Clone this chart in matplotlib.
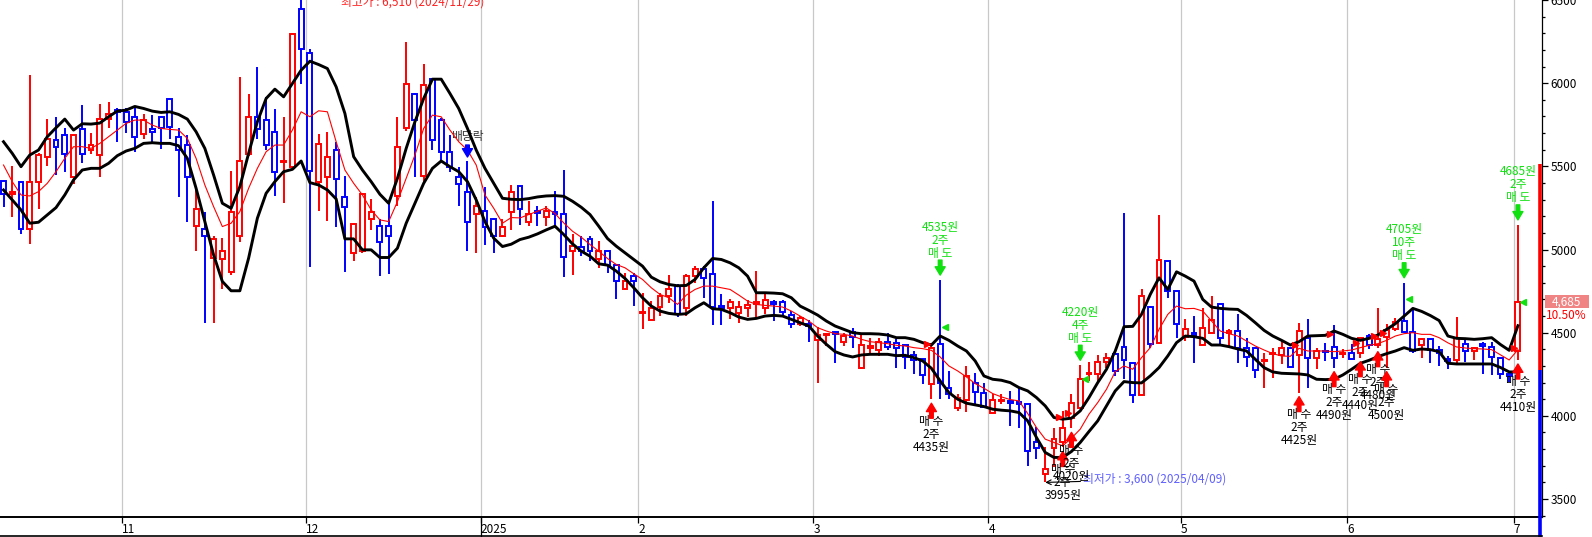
import numpy as np
import matplotlib
matplotlib.use("Agg")
import matplotlib.pyplot as plt
from matplotlib.patches import Rectangle
from matplotlib.lines import Line2D
from matplotlib.transforms import blended_transform_factory, offset_copy

plt.rcParams['font.family'] = ['Noto Sans CJK KR', 'DejaVu Sans']

RED = '#ff0000'
BLUE = '#0000ff'
GREEN = '#10e010'

# daily candles, 2024/10/14 .. 2025/07/01
opens = [5412, 5332, 5406, 5122, 5406, 5556, 5658, 5688, 5436, 5724,
         5600, 5566, 5784, 5838, 5828, 5794, 5694, 5724, 5794, 5902,
         5674, 5628, 5142, 5122, 4948, 4944, 4864, 5082, 5574, 5796,
         5778, 5706, 5528, 5496, 6444, 6184, 5406, 5436, 5598, 5316,
         4980, 4994, 5184, 5142, 5142, 5324, 5732, 5934, 5444, 6024,
         5778, 5586, 5436, 5346, 5214, 5232, 5184, 5082, 5226, 5384,
         5168, 5234, 5198, 5228, 5216, 4994, 5016, 5066, 4946, 4990,
         4906, 4760, 4838, 4620, 4574, 4654, 4718, 4780, 4646, 4838,
         4880, 4850, 4658, 4646, 4616, 4646, 4674, 4646, 4684, 4686,
         4606, 4550, 4550, 4454, 4484, 4502, 4446, 4504, 4290, 4406,
         4398, 4446, 4440, 4424, 4364, 4340, 4190, 4430, 4170, 4050,
         4094, 4196, 4140, 4016, 4090, 4090, 4084, 4070, 3840, 3650,
         3804, 3840, 3990, 4046, 4250, 4250, 4324, 4374, 4414, 4320,
         4124, 4654, 4440, 4930, 4750, 4474, 4496, 4424, 4500, 4670,
         4500, 4508, 4410, 4406, 4330, 4374, 4366, 4410, 4366, 4470,
         4346, 4390, 4414, 4374, 4380, 4380, 4480, 4424, 4474, 4520,
         4570, 4504, 4429, 4460, 4398, 4340, 4336, 4435, 4390, 4435,
         4414, 4347, 4254, 4392]
highs = [5420, 5504, 5406, 6052, 5580, 5782, 5798, 5730, 5690, 5868,
         5698, 5876, 5888, 5850, 5848, 5848, 5812, 5808, 5800, 5906,
         5728, 5688, 5368, 5228, 5080, 5068, 5472, 6036, 5934, 6096,
         5916, 5844, 5796, 6300, 6510, 6204, 5692, 5708, 5648, 5444,
         5160, 5340, 5304, 5184, 5278, 5796, 6248, 5940, 6116, 6030,
         5790, 5688, 5496, 5532, 5318, 5376, 5190, 5184, 5388, 5384,
         5290, 5260, 5260, 5350, 5476, 5096, 5080, 5080, 5054, 4990,
         4906, 4860, 4860, 4740, 4690, 4740, 4846, 4790, 4850, 4900,
         4900, 5290, 4730, 4704, 4690, 4696, 4870, 4740, 4696, 4696,
         4630, 4600, 4576, 4536, 4496, 4510, 4500, 4530, 4490, 4470,
         4470, 4500, 4460, 4424, 4390, 4340, 4440, 4816, 4270, 4130,
         4298, 4260, 4200, 4130, 4130, 4150, 4170, 4070, 3936, 3810,
         3930, 4030, 4130, 4304, 4324, 4364, 4380, 4390, 5220, 4320,
         4760, 4660, 5210, 4930, 4750, 4580, 4600, 4650, 4720, 4670,
         4524, 4610, 4470, 4406, 4380, 4410, 4450, 4410, 4560, 4584,
         4410, 4440, 4546, 4400, 4430, 4470, 4490, 4650, 4550, 4590,
         4800, 4650, 4470, 4460, 4418, 4357, 4593, 4470, 4414, 4445,
         4445, 4347, 4264, 5148]
lows = [5258, 5198, 5092, 5032, 5244, 5500, 5448, 5468, 5392, 5522,
        5572, 5434, 5728, 5648, 5700, 5588, 5664, 5632, 5604, 5664,
        5314, 5168, 4992, 4560, 4560, 4764, 4848, 5048, 5560, 5664,
        5598, 5320, 5282, 5490, 5994, 4894, 5232, 5172, 5136, 4864,
        4928, 4980, 5118, 4842, 4854, 5260, 5710, 5434, 5400, 5598,
        5536, 5468, 5262, 4992, 4978, 5028, 4980, 5076, 5118, 5150,
        5140, 5140, 5140, 5140, 4834, 4846, 4960, 4930, 4886, 4860,
        4700, 4754, 4660, 4524, 4574, 4600, 4680, 4596, 4600, 4800,
        4710, 4546, 4546, 4580, 4560, 4596, 4580, 4610, 4570, 4596,
        4530, 4540, 4446, 4200, 4420, 4320, 4420, 4410, 4290, 4380,
        4360, 4394, 4290, 4284, 4254, 4190, 4100, 4100, 4100, 4030,
        4026, 4066, 4054, 4016, 4074, 3940, 3930, 3700, 3740, 3600,
        3690, 3810, 3925, 4046, 4210, 4210, 4290, 4240, 4220, 4080,
        4124, 4410, 4430, 4710, 4470, 4450, 4320, 4424, 4500, 4430,
        4410, 4320, 4296, 4230, 4170, 4230, 4310, 4296, 4140, 4170,
        4280, 4330, 4290, 4350, 4340, 4350, 4400, 4410, 4290, 4510,
        4504, 4380, 4346, 4320, 4300, 4279, 4305, 4326, 4336, 4254,
        4244, 4223, 4203, 4336]
closes = [5332, 5348, 5122, 5406, 5568, 5664, 5616, 5572, 5688, 5574,
          5628, 5784, 5812, 5828, 5766, 5676, 5778, 5708, 5732, 5734,
          5598, 5434, 5244, 5082, 5062, 4994, 5226, 5532, 5796, 5724,
          5628, 5468, 5534, 6294, 6204, 5472, 5632, 5554, 5424, 5254,
          5154, 5334, 5224, 5048, 5084, 5616, 5996, 5778, 5988, 5658,
          5586, 5494, 5394, 5166, 5262, 5136, 5082, 5134, 5344, 5246,
          5214, 5218, 5230, 5216, 4958, 5024, 4990, 4990, 4990, 4906,
          4810, 4810, 4808, 4624, 4646, 4720, 4760, 4610, 4838, 4880,
          4826, 4656, 4646, 4686, 4652, 4666, 4684, 4694, 4670, 4626,
          4550, 4586, 4540, 4486, 4492, 4490, 4480, 4476, 4424, 4422,
          4446, 4416, 4410, 4354, 4336, 4244, 4410, 4196, 4130, 4110,
          4240, 4146, 4054, 4096, 4096, 4080, 4074, 3790, 3806, 3680,
          3860, 3930, 4076, 4224, 4256, 4324, 4350, 4270, 4334, 4124,
          4720, 4430, 4936, 4750, 4554, 4520, 4484, 4530, 4574, 4470,
          4510, 4410, 4356, 4276, 4334, 4380, 4410, 4296, 4510, 4346,
          4390, 4386, 4346, 4380, 4340, 4466, 4424, 4460, 4516, 4564,
          4504, 4390, 4460, 4398, 4378, 4330, 4466, 4388, 4410, 4422,
          4351, 4250, 4240, 4685]

# envelope lines
upper = [5648, 5578, 5498, 5568, 5598, 5678, 5732, 5784, 5718, 5756,
         5754, 5760, 5798, 5832, 5838, 5860, 5848, 5832, 5824, 5828,
         5812, 5784, 5708, 5608, 5448, 5278, 5248, 5378, 5578, 5768,
         5908, 5964, 5918, 5998, 6078, 6132, 6112, 6088, 5978, 5818,
         5558, 5478, 5408, 5332, 5278, 5428, 5608, 5768, 5908, 6024,
         6024, 5938, 5848, 5728, 5598, 5488, 5398, 5308, 5302, 5300,
         5306, 5316, 5322, 5324, 5320, 5290, 5254, 5210, 5140, 5066,
         5020, 4980, 4940, 4900, 4834, 4806, 4790, 4782, 4784, 4820,
         4890, 4946, 4940, 4920, 4890, 4840, 4740, 4740, 4738, 4734,
         4710, 4660, 4634, 4606, 4570, 4540, 4520, 4500, 4494, 4494,
         4492, 4486, 4470, 4470, 4460, 4440, 4426, 4480, 4454, 4420,
         4390, 4330, 4240, 4220, 4214, 4200, 4170, 4150, 4110, 4060,
         3990, 3980, 3986, 4030, 4110, 4200, 4280, 4390, 4536, 4538,
         4610, 4730, 4830, 4760, 4866, 4840, 4810, 4700, 4654, 4646,
         4642, 4640, 4604, 4560, 4514, 4480, 4454, 4426, 4446, 4480,
         4482, 4484, 4510, 4490, 4466, 4454, 4466, 4486, 4520, 4554,
         4600, 4646, 4628, 4603, 4573, 4480, 4466, 4464, 4460, 4464,
         4470, 4429, 4394, 4542]
middle = [5508, 5408, 5328, 5322, 5348, 5398, 5468, 5548, 5618, 5618,
          5608, 5638, 5678, 5718, 5758, 5778, 5778, 5748, 5728, 5722,
          5718, 5668, 5548, 5388, 5258, 5138, 5158, 5228, 5368, 5488,
          5588, 5628, 5628, 5718, 5828, 5798, 5834, 5828, 5648, 5478,
          5398, 5328, 5238, 5178, 5168, 5288, 5428, 5568, 5728, 5808,
          5798, 5718, 5648, 5598, 5508, 5328, 5248, 5158, 5192, 5190,
          5210, 5230, 5250, 5216, 5160, 5110, 5074, 5030, 4990, 4946,
          4910, 4890, 4854, 4820, 4770, 4730, 4710, 4670, 4726, 4760,
          4780, 4780, 4770, 4760, 4726, 4690, 4670, 4664, 4660, 4654,
          4630, 4600, 4570, 4530, 4510, 4494, 4490, 4480, 4460, 4446,
          4440, 4434, 4424, 4420, 4410, 4404, 4394, 4354, 4300, 4270,
          4234, 4194, 4166, 4134, 4114, 4098, 4090, 4014, 3930, 3860,
          3840, 3820, 3866, 3920, 4010, 4080, 4160, 4266, 4300, 4280,
          4350, 4410, 4520, 4610, 4660, 4644, 4646, 4630, 4570, 4510,
          4494, 4480, 4450, 4420, 4396, 4374, 4360, 4358, 4406, 4390,
          4390, 4390, 4386, 4390, 4396, 4410, 4424, 4434, 4454, 4480,
          4494, 4500, 4490, 4490, 4470, 4439, 4414, 4408, 4404, 4402,
          4398, 4367, 4336, 4398]
lower = [5358, 5298, 5238, 5158, 5164, 5208, 5252, 5328, 5418, 5478,
         5488, 5488, 5518, 5564, 5592, 5608, 5638, 5642, 5638, 5638,
         5624, 5548, 5368, 5168, 4968, 4808, 4752, 4752, 4948, 5188,
         5338, 5408, 5468, 5482, 5532, 5402, 5388, 5358, 5304, 5064,
         5064, 4998, 4998, 4952, 4952, 5008, 5158, 5278, 5398, 5488,
         5532, 5498, 5468, 5408, 5298, 5168, 5068, 5018, 5032, 5060,
         5074, 5094, 5118, 5140, 5090, 5034, 4990, 4960, 4914, 4906,
         4870, 4826, 4770, 4710, 4660, 4630, 4616, 4610, 4614, 4650,
         4680, 4644, 4640, 4620, 4594, 4580, 4586, 4600, 4604, 4600,
         4580, 4560, 4540, 4480, 4430, 4386, 4366, 4354, 4366, 4370,
         4370, 4370, 4362, 4364, 4350, 4330, 4286, 4210, 4140, 4100,
         4076, 4066, 4056, 4040, 4034, 4030, 4020, 3970, 3870, 3780,
         3750, 3750, 3786, 3840, 3906, 3970, 4060, 4150, 4206, 4200,
         4198, 4240, 4290, 4360, 4440, 4480, 4476, 4466, 4426, 4426,
         4416, 4402, 4390, 4340, 4290, 4264, 4256, 4254, 4252, 4246,
         4220, 4218, 4220, 4246, 4280, 4316, 4334, 4356, 4374, 4390,
         4410, 4394, 4402, 4398, 4386, 4316, 4312, 4312, 4312, 4312,
         4312, 4291, 4264, 4264]

month_labels = ["11", "12", "2025", "2", "3", "4", "5", "6", "7"]
month_start = [14, 35, 55, 73, 93, 113, 135, 154, 173]

buy_idx = [106, 121, 122, 148, 152, 155, 157, 158, 173]
buy_price = [4435, 3995, 4020, 4425, 4490, 4440, 4480, 4500, 4410]
buy_qty = [2, 2, 2, 2, 2, 2, 2, 2, 2]

sell_idx = [107, 123, 160, 173]
sell_price = [4535, 4220, 4705, 4685]
sell_qty = [2, 4, 10, 2]

high_idx, high_text = 34, "최고가 : 6,510 (2024/11/29)"
low_idx, low_text = 119, "최저가 : 3,600 (2025/04/09)"
exdiv_idx = 53
limit_band = [2968, 4275, 5515]

W, H = 1592, 537
fig = plt.figure(figsize=(W / 100, H / 100), dpi=100)
ax = fig.add_axes([0, 20 / H, 1542 / W, 517 / H])
ax.set_xlim(-0.4, 175.75)
ax.set_ylim(3392, 6488)

for ms in month_start:
    ax.axvline(ms - 0.5, color='#c8c8c8', lw=0.9, zorder=0)

x = np.arange(len(closes))
for i in x:
    o, h, l, c = opens[i], highs[i], lows[i], closes[i]
    col = RED if c >= o else BLUE
    top, bot = max(o, c), min(o, c)
    ax.vlines(i, top, h, color=col, lw=1.4, zorder=2)
    ax.vlines(i, l, bot, color=col, lw=1.4, zorder=2)
    ax.add_patch(Rectangle((i - 0.28, bot), 0.56, top - bot, facecolor='white',
                           edgecolor=col, lw=1.4, zorder=3))

ax.plot(x, upper, color='black', lw=2.1, zorder=4)
ax.plot(x, lower, color='black', lw=2.1, zorder=4)
ax.plot(x, middle, color=RED, lw=0.8, zorder=4)


def arrow(i, price, tip, tail, color):
    tr = offset_copy(ax.transData, fig=fig, x=0, y=tip, units='dots')
    ax.annotate('', xy=(i, price), xycoords=tr, xytext=(0, tail - tip),
                textcoords='offset pixels', annotation_clip=False,
                arrowprops=dict(arrowstyle='simple,head_length=0.5,head_width=0.6,tail_width=0.22',
                                color=color, shrinkA=0, shrinkB=0, mutation_scale=12),
                zorder=6)


for i, p, q in zip(buy_idx, buy_price, buy_qty):
    arrow(i, lows[i], -4, -19, RED)
    ax.annotate(f"매 수\n{q}주\n{p}원", xy=(i, lows[i]), xytext=(0, -35),
                textcoords='offset pixels', ha='center', va='center',
                fontsize=8.5, linespacing=1.0, color='black', zorder=6)
    ax.plot(i - 0.45, p, marker='>', ms=4, color=RED, zorder=5)

for i, p, q in zip(sell_idx, sell_price, sell_qty):
    arrow(i, highs[i], 5, 20, GREEN)
    ax.annotate(f"{p}원\n{q}주\n매 도", xy=(i, highs[i]), xytext=(0, 40),
                textcoords='offset pixels', ha='center', va='center',
                fontsize=8.5, linespacing=1.0, color=GREEN, zorder=6)
    ax.plot(i + 0.55, p, marker='<', ms=4, color=GREEN, zorder=5)

# ex-dividend mark
arrow(exdiv_idx, highs[exdiv_idx], 4, 16, BLUE)
ax.annotate("배당락", xy=(exdiv_idx, highs[exdiv_idx]), xytext=(0, 25),
            textcoords='offset pixels', ha='center', va='center',
            fontsize=8.5, color='#333333')

# high / low labels
ax.annotate(high_text, xy=(high_idx, highs[high_idx]), xytext=(40, -10),
            textcoords='offset pixels', ha='left', va='bottom',
            fontsize=8.5, color='#ff2020', annotation_clip=False)
ax.annotate(low_text, xy=(low_idx, lows[low_idx]), xytext=(38, 3),
            textcoords='offset pixels', ha='left', va='center',
            fontsize=8.5, color='#6060ff',
            arrowprops=dict(arrowstyle='->', color='black', lw=0.8,
                            shrinkA=0, shrinkB=0))

# axes styling
for s in ['left', 'top']:
    ax.spines[s].set_visible(False)
ax.spines['bottom'].set_linewidth(1.4)
ax.spines['right'].set_linewidth(0.9)
ax.yaxis.tick_right()
ax.set_yticks(np.arange(3500, 6501, 500))
ax.set_yticks(np.arange(3400, 6500, 100), minor=True)
ax.tick_params(axis='y', which='major', length=4, width=0.9, pad=2, labelsize=8.5)
ax.tick_params(axis='y', which='minor', length=2.5, width=0.9)
ax.set_xticks([m - 0.5 for m in month_start])
ax.set_xticklabels(month_labels)
for lab in ax.get_xticklabels():
    lab.set_ha('left')
ax.tick_params(axis='x', length=4, width=0.9, pad=0, labelsize=8.5)

# price limit bar on right edge
bt = blended_transform_factory(ax.transAxes, ax.transData)
ax.plot([0.9990, 0.9990], [limit_band[1], limit_band[2]], color=RED, lw=2.6,
        transform=bt, clip_on=False, zorder=7, solid_capstyle='butt')
ax.plot([0.9990, 0.9990], [limit_band[0], limit_band[1]], color=BLUE, lw=2.6,
        transform=bt, clip_on=False, zorder=7, solid_capstyle='butt')

# last price box
last = closes[-1]
chg = (closes[-1] / closes[-2] - 1) * 100
ax.add_patch(Rectangle((1.0022, last - 39), 0.028, 78, transform=bt,
                       facecolor='#f08484', edgecolor='none', clip_on=False, zorder=7))
ax.text(1.0255, last, f"{last:,}", transform=bt, ha='right', va='center',
        fontsize=8.5, color='white', zorder=8)
ax.annotate(f"{chg:.2f}%", xy=(1.0158, last), xycoords=bt, xytext=(0, -14),
            textcoords='offset pixels', ha='center', va='center',
            fontsize=8.5, color=RED, annotation_clip=False)

# year marker tick and bottom frame line
bx = blended_transform_factory(ax.transData, ax.transAxes)
ax.plot([month_start[2] - 0.5] * 2, [0, -20 / 517], color='black', lw=0.9,
        transform=bx, clip_on=False)
fig.add_artist(Line2D([0, 1542 / W], [1 / H, 1 / H], color='black', lw=1.2))

fig.savefig('out.png', dpi=100)
